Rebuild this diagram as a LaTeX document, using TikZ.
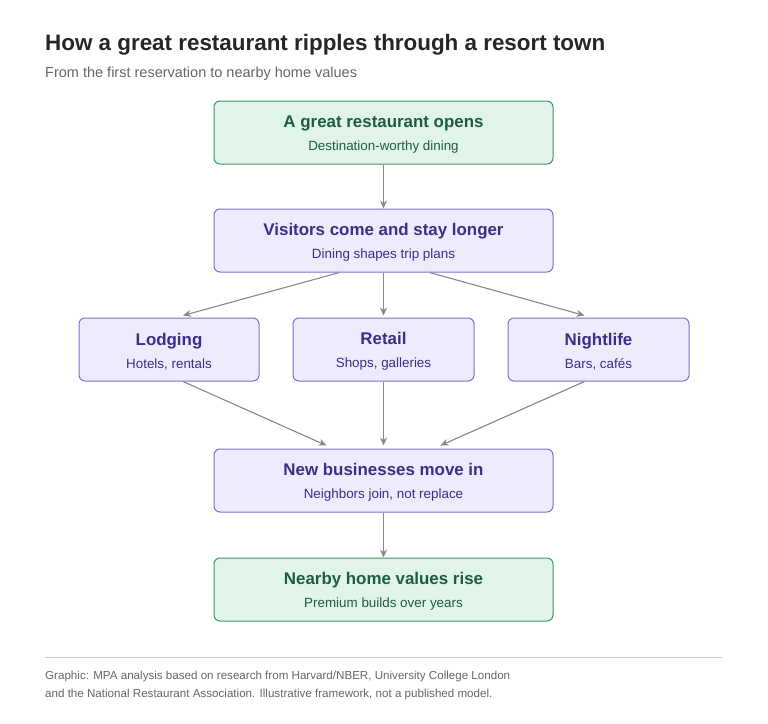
\documentclass[tikz,border=0pt]{standalone}
\usepackage{fontspec}
\setmainfont{Liberation Sans}
\usetikzlibrary{calc,arrows.meta}
\definecolor{mint fill}{HTML}{E1F4EA}
\definecolor{mint line}{HTML}{3E9466}
\definecolor{mint text}{HTML}{1D5E3C}
\definecolor{lilac fill}{HTML}{EDEBFC}
\definecolor{lilac line}{HTML}{7D70C8}
\definecolor{lilac text}{HTML}{3A2E88}
\definecolor{flow gray}{HTML}{888888}

\tikzset{
  stage/.style={draw, rounded corners=6pt, line width=1pt, align=center,
    inner sep=0pt},
  green stage/.style={stage, fill=mint fill, draw=mint line, text=mint text},
  purple stage/.style={stage, fill=lilac fill, draw=lilac line, text=lilac text},
  flow/.style={draw=flow gray, line width=1.1pt, -{Stealth[length=8pt,width=7pt]}}
}
\newcommand{\stagetext}[2]{{\fontsize{16.9}{19}\selectfont\bfseries\rule[-4pt]{0pt}{20pt}#1}\\[7pt]{\fontsize{13.4}{15}\selectfont\rule[-2pt]{0pt}{13pt}#2}}

\begin{document}
\begin{tikzpicture}[x=1pt, y=-1pt]
			\useasboundingbox (0,0) rectangle (768,723);
			% heading
			\node[anchor=base west, inner sep=0pt, text=black!85, font=\fontsize{22.4}{26}\selectfont\bfseries] (title) at (45,50)
				{How a great restaurant ripples through a resort town};
			\node[anchor=base west, inner sep=0pt, text=black!60, font=\fontsize{14.5}{16}\selectfont] (subtitle) at (45,77)
				{From the first reservation to nearby home values};
			% stages
			\node[green stage, minimum width=339pt, minimum height=63pt] (opens) at (383.5,132.5)
				{\stagetext{A great restaurant opens}{Destination-worthy dining}};
			\node[purple stage, minimum width=339pt, minimum height=63pt] (visitors) at (383.5,240.5)
				{\stagetext{Visitors come and stay longer}{Dining shapes trip plans}};
			\node[purple stage, minimum width=180pt, minimum height=63pt] (lodging) at (169,349.5)
				{\stagetext{Lodging}{Hotels, rentals}};
			\node[purple stage, minimum width=181pt, minimum height=63pt] (retail) at (383.5,349.5)
				{\stagetext{Retail}{Shops, galleries}};
			\node[purple stage, minimum width=181pt, minimum height=63pt] (nightlife) at (598.5,349.5)
				{\stagetext{Nightlife}{Bars, cafés}};
			\node[purple stage, minimum width=339pt, minimum height=63pt] (newbiz) at (383.5,480.5)
				{\stagetext{New businesses move in}{Neighbors join, not replace}};
			\node[green stage, minimum width=339pt, minimum height=63pt] (homes) at (383.5,589.5)
				{\stagetext{Nearby home values rise}{Premium builds over years}};
			% connectors
			\draw[flow] (opens.south) -- (visitors.north);
			\draw[flow] ($(visitors.south)+(-44,0)$) -- ($(lodging.north)+(14,-2)$);
			\draw[flow] (visitors.south) -- ($(retail.north)+(0,-2)$);
			\draw[flow] ($(visitors.south)+(46,0)$) -- ($(nightlife.north)+(-14,-2)$);
			\draw[flow] ($(lodging.south)+(14,0)$) -- ($(newbiz.north)+(-57,-3)$);
			\draw[flow] (retail.south) -- ($(newbiz.north)+(0,-3)$);
			\draw[flow] ($(nightlife.south)+(-14,0)$) -- ($(newbiz.north)+(57,-3)$);
			\draw[flow] (newbiz.south) -- (homes.north);
			% footer
			\draw[black!20, line width=0.8pt] (45,657) -- (722,657);
			\node[anchor=north west, inner sep=0pt, text=black!60, align=left, font=\fontsize{11.6}{17.5}\selectfont] (source) at (45,671)
				{Graphic: MPA analysis based on research from Harvard/NBER, University College London\\
				and the National Restaurant Association. Illustrative framework, not a published model.};
		\end{tikzpicture}
\end{document}
